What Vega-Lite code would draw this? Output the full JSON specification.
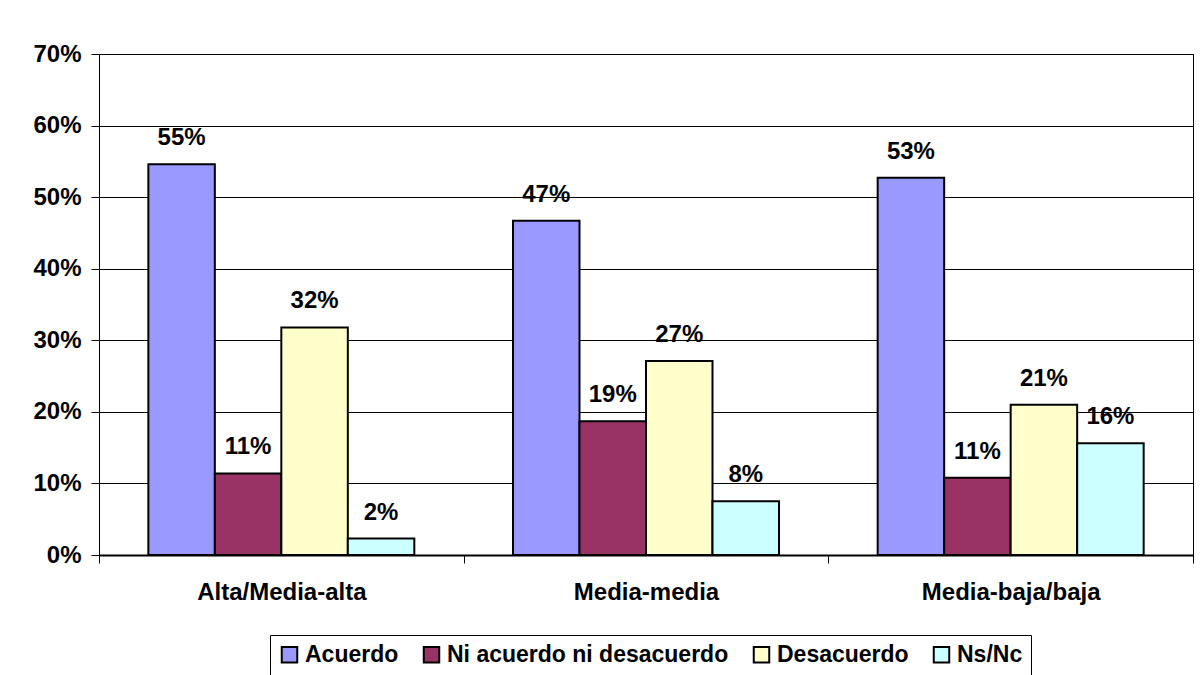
{
  "$schema": "https://vega.github.io/schema/vega-lite/v6.json",
  "width": 1094,
  "height": 501,
  "autosize": "none",
  "padding": {"left": 99, "top": 54, "right": 9, "bottom": 120},
  "background": "white",
  "config": {
    "font": "Liberation Sans",
    "view": {"stroke": "black", "strokeWidth": 1},
    "axis": {
      "labelFont": "Liberation Sans",
      "labelFontWeight": "bold",
      "labelColor": "black",
      "domainColor": "black",
      "tickColor": "black",
      "gridColor": "black",
      "gridOpacity": 1
    }
  },
  "data": {
    "values": [
      {"grupo": "Alta/Media-alta", "respuesta": "Acuerdo", "valor": 0.546},
      {"grupo": "Alta/Media-alta", "respuesta": "Ni acuerdo ni desacuerdo", "valor": 0.114},
      {"grupo": "Alta/Media-alta", "respuesta": "Desacuerdo", "valor": 0.318},
      {"grupo": "Alta/Media-alta", "respuesta": "Ns/Nc", "valor": 0.023},
      {"grupo": "Media-media", "respuesta": "Acuerdo", "valor": 0.467},
      {"grupo": "Media-media", "respuesta": "Ni acuerdo ni desacuerdo", "valor": 0.187},
      {"grupo": "Media-media", "respuesta": "Desacuerdo", "valor": 0.271},
      {"grupo": "Media-media", "respuesta": "Ns/Nc", "valor": 0.075},
      {"grupo": "Media-baja/baja", "respuesta": "Acuerdo", "valor": 0.527},
      {"grupo": "Media-baja/baja", "respuesta": "Ni acuerdo ni desacuerdo", "valor": 0.108},
      {"grupo": "Media-baja/baja", "respuesta": "Desacuerdo", "valor": 0.21},
      {"grupo": "Media-baja/baja", "respuesta": "Ns/Nc", "valor": 0.156}
    ]
  },
  "encoding": {
    "x": {
      "field": "grupo",
      "type": "nominal",
      "sort": null,
      "scale": {"paddingInner": 0, "paddingOuter": 0},
      "axis": {
        "title": null,
        "labelAngle": 0,
        "labelFontSize": 24,
        "labelPadding": 17,
        "tickSize": 8,
        "tickBand": "extent",
        "domainWidth": 2,
        "grid": false
      }
    },
    "xOffset": {
      "field": "respuesta",
      "type": "nominal",
      "sort": ["Acuerdo", "Ni acuerdo ni desacuerdo", "Desacuerdo", "Ns/Nc"],
      "scale": {"paddingInner": 0, "paddingOuter": 0.742}
    },
    "y": {
      "field": "valor",
      "type": "quantitative",
      "scale": {"domain": [0, 0.7], "nice": false},
      "axis": {
        "title": null,
        "format": ".0%",
        "values": [0, 0.1, 0.2, 0.3, 0.4, 0.5, 0.6, 0.7],
        "labelFontSize": 24,
        "labelPadding": 10,
        "tickSize": 8,
        "grid": true,
        "gridWidth": 1
      }
    }
  },
  "layer": [
    {
      "mark": {"type": "bar", "stroke": "black", "strokeWidth": 2},
      "encoding": {
        "color": {
          "field": "respuesta",
          "type": "nominal",
          "sort": ["Acuerdo", "Ni acuerdo ni desacuerdo", "Desacuerdo", "Ns/Nc"],
          "scale": {
            "domain": ["Acuerdo", "Ni acuerdo ni desacuerdo", "Desacuerdo", "Ns/Nc"],
            "range": ["#9999FF", "#993366", "#FFFFCC", "#CCFFFF"]
          },
          "legend": {
            "title": null,
            "orient": "none",
            "direction": "horizontal",
            "legendX": 171,
            "legendY": 581,
            "strokeColor": "black",
            "padding": 8,
            "symbolType": "square",
            "symbolSize": 240,
            "symbolStrokeColor": "black",
            "symbolStrokeWidth": 2,
            "symbolOpacity": 1,
            "labelFont": "Liberation Sans",
            "labelFontSize": 23,
            "labelFontWeight": "bold",
            "labelColor": "black",
            "labelOffset": 4,
            "labelLimit": 500,
            "columnPadding": 20
          }
        }
      }
    },
    {
      "mark": {
        "type": "text",
        "font": "Liberation Sans",
        "fontSize": 24,
        "fontWeight": "bold",
        "color": "black",
        "baseline": "alphabetic",
        "dy": -19
      },
      "encoding": {
        "text": {"field": "valor", "type": "quantitative", "format": ".0%"}
      }
    }
  ]
}
